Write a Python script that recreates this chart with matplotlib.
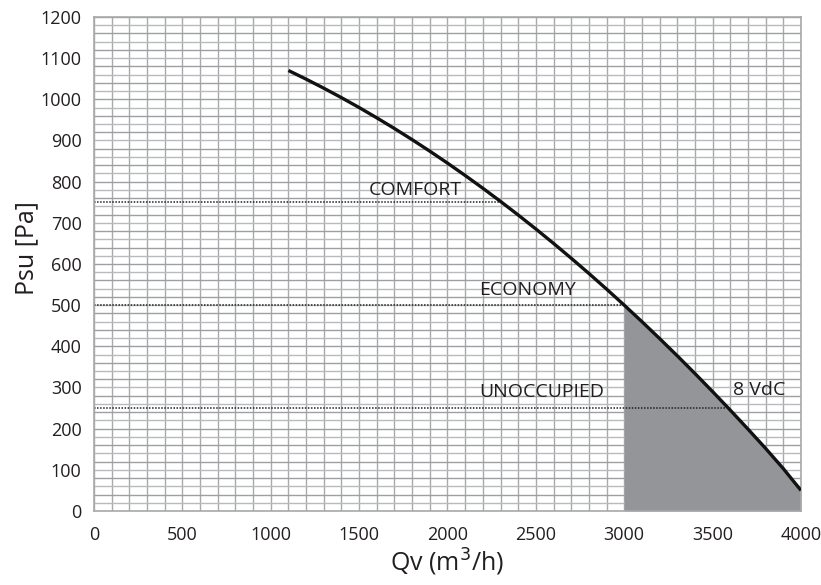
import numpy as np
import matplotlib
matplotlib.use("Agg")
import matplotlib.pyplot as plt

plt.rcParams['font.family'] = ['Open Sans', 'DejaVu Sans']

# fan curve at 8 VdC, read every 100 m3/h
flow = [1100, 1200, 1300, 1400, 1500, 1600, 1700, 1800, 1900, 2000,
        2100, 2200, 2300, 2400, 2500, 2600, 2700, 2800, 2900, 3000,
        3100, 3200, 3300, 3400, 3500, 3600, 3700, 3800, 3900, 4000]
pressure = [1070, 1049, 1027, 1004, 980, 955, 929, 902, 874, 845,
            815, 784, 752, 719, 685, 650, 614, 577, 539, 500,
            460, 419, 377, 334, 290, 245, 199, 152, 103, 50]

# operating modes: label, pressure level, flow where the level meets the curve
modes = ["COMFORT", "ECONOMY", "UNOCCUPIED"]
mode_psu = [750, 500, 250]
mode_qv = [2300, 3000, 3575]

shade_from = 3000
curve_label = "8 VdC"

xticks = list(range(0, 4001, 500))
yticks = list(range(0, 1201, 100))

TXT = "#231f20"

fig = plt.figure(figsize=(8.21, 5.85), dpi=100)
ax = fig.add_axes([0.1145, 0.1265, 0.8611, 0.8445])

ax.set_xlim(0, 4000)
ax.set_ylim(0, 1200)

# fine grid paper
for x in range(0, 4001, 100):
    ax.axvline(x, color="#a7a9ac", lw=1.0, zorder=0)
for i, y in enumerate(range(0, 1201, 20)):
    ax.axhline(y, color="#9d9fa2" if i % 2 == 0 else "#b8babc", lw=1.0, zorder=0)

q = np.array(flow)
p = np.array(pressure)
sel = q >= shade_from
ax.fill_between(q[sel], 0, p[sel], color="#939598", lw=0, zorder=1)

ax.plot(q, p, color="#111111", lw=2.4, solid_capstyle="butt", zorder=3)

for lvl, qv in zip(mode_psu, mode_qv):
    ax.plot([0, qv], [lvl, lvl], color="#222222", ls=(0, (1, 1)), lw=1.1, zorder=2)

ax.text(1816, 780, modes[0], ha="center", va="center", fontsize=14, color=TXT)
ax.text(2450, 537, modes[1], ha="center", va="center", fontsize=14, color=TXT)
ax.text(2535, 289, modes[2], ha="center", va="center", fontsize=14, color=TXT)
ax.text(3762, 294, curve_label, ha="center", va="center", fontsize=14, color=TXT)

ax.set_xticks(xticks)
ax.set_yticks(yticks)
ax.tick_params(length=0, labelsize=13, colors=TXT)
ax.tick_params(axis="x", pad=11)
ax.tick_params(axis="y", pad=9)
for s in ax.spines.values():
    s.set_color("#a7a9ac")
    s.set_linewidth(1.2)

ax.set_xlabel("Qv (m$^3$/h)", fontsize=18, color=TXT, labelpad=2)
ax.set_ylabel("Psu [Pa]", fontsize=18, color=TXT)
ax.yaxis.set_label_coords(-0.078, 0.532)

plt.savefig("out.png", dpi=100)
